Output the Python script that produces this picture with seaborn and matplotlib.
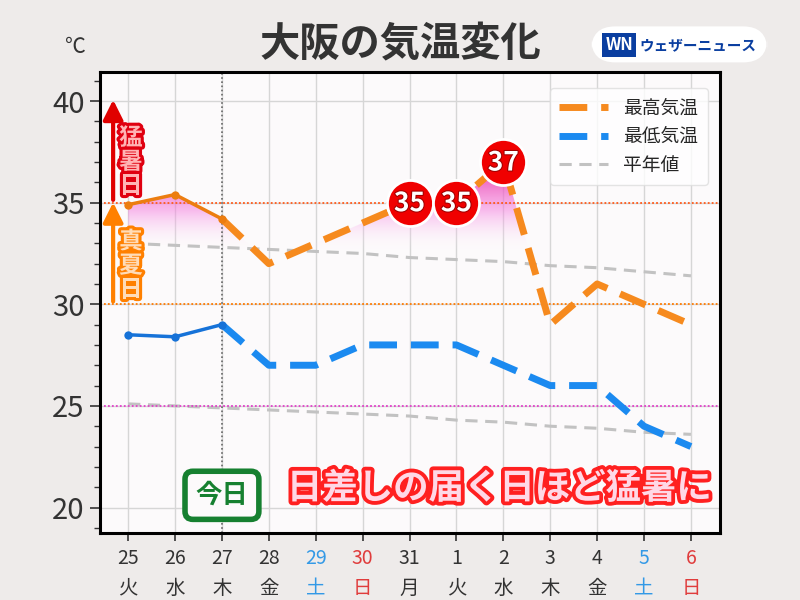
import numpy as np
import pandas as pd
import matplotlib
matplotlib.use("Agg")
import matplotlib.pyplot as plt
import matplotlib.colors as mcolors
import matplotlib.patheffects as pe
from matplotlib.lines import Line2D
from matplotlib.patches import FancyBboxPatch
from matplotlib.path import Path
import seaborn as sns

DAYS = ["25", "26", "27", "28", "29", "30", "31", "1", "2", "3", "4", "5", "6"]
WEEKDAYS = ["火", "水", "木", "金", "土", "日", "月", "火", "水", "木", "金", "土", "日"]
T_MAX = [34.9, 35.4, 34.2, 32.0, 33.0, 34.0, 35.0, 35.0, 37.0, 29.0, 31.0, 30.0, 29.0]
T_MIN = [28.5, 28.4, 29.0, 27.0, 27.0, 28.0, 28.0, 28.0, 27.0, 26.0, 26.0, 24.0, 23.0]
NORMAL_MAX = [33.0, 32.9, 32.8, 32.7, 32.6, 32.5, 32.3, 32.2, 32.1, 31.9, 31.8, 31.6, 31.4]
NORMAL_MIN = [25.1, 25.0, 24.9, 24.8, 24.7, 24.6, 24.5, 24.3, 24.2, 24.0, 23.9, 23.7, 23.6]
N_OBSERVED = 3          # 25..27 are observed, rest forecast
HOT_LABELS = {"31": 35, "1": 35, "2": 37}

ORANGE = "#f68a1e"
ORANGE_PAST = "#ec7d10"
BLUE = "#1b8af0"
BLUE_PAST = "#1672d8"
GRAY = "#c2c2c2"
BG = "#eeebea"
PANEL = "#fcfafb"
TEXT = "#333333"

sns.set_theme(style="whitegrid")
plt.rcParams["font.family"] = ["Noto Sans CJK JP", "DejaVu Sans"]

df = pd.DataFrame({"day": DAYS, "wd": WEEKDAYS, "tmax": T_MAX, "tmin": T_MIN,
                   "nmax": NORMAL_MAX, "nmin": NORMAL_MIN})
df["x"] = np.arange(len(df))
past = df.iloc[:N_OBSERVED]
fut = df.iloc[N_OBSERVED - 1:]

fig = plt.figure(figsize=(8, 6), dpi=100)
fig.patch.set_facecolor(BG)
ax = fig.add_axes([0.125, 0.1125, 0.775, 0.7675])
ax.set_facecolor(PANEL)

# normals
sns.lineplot(data=df, x="x", y="nmax", ax=ax, color=GRAY, lw=2.2,
             linestyle=(0, (4, 2.5)), errorbar=None, zorder=2)
sns.lineplot(data=df, x="x", y="nmin", ax=ax, color=GRAY, lw=2.2,
             linestyle=(0, (4, 2.5)), errorbar=None, zorder=2)

# gradient fill above normal
fb = ax.fill_between(df["x"], df["tmax"], df["nmax"], where=df["tmax"] > df["nmax"],
                     interpolate=True, facecolor="none", edgecolor="none")
clip = Path.make_compound_path(*fb.get_paths())
grad_cmap = mcolors.LinearSegmentedColormap.from_list(
    "heat", [(0.0, (1, 1, 1, 0)), (0.4, (0.96, 0.5, 0.88, 0.5)),
             (0.7, (0.93, 0.3, 0.72, 0.8)), (1.0, (0.9, 0.2, 0.45, 0.9))])
im = ax.imshow(np.linspace(0, 1, 256).reshape(-1, 1), extent=[-0.6, 12.6, 32.6, 37.5],
               origin="lower", cmap=grad_cmap, aspect="auto", zorder=1.5)
im.set_clip_path(clip, ax.transData)

# reference lines
ax.axhline(35, color="#ff5a1a", lw=1.3, ls=(0, (1, 1.2)), zorder=2)
ax.axhline(30, color="#ff7a00", lw=1.3, ls=(0, (1, 1.2)), zorder=2)
ax.axhline(25, color="#e040c8", lw=1.3, ls=(0, (1, 1.2)), zorder=2)
ax.axvline(2, color="#666666", lw=1.2, ls=(0, (1, 1.5)), zorder=2)

# min temp
sns.lineplot(data=past, x="x", y="tmin", ax=ax, color=BLUE_PAST, lw=2.5,
             marker="o", markersize=6, markeredgewidth=0, errorbar=None, zorder=4)
sns.lineplot(data=fut, x="x", y="tmin", ax=ax, color=BLUE, lw=5,
             linestyle=(0, (4, 2)), errorbar=None, zorder=3)

# max temp
sns.lineplot(data=fut, x="x", y="tmax", ax=ax, color=ORANGE, lw=5,
             linestyle=(0, (4, 2)), errorbar=None, zorder=3)
sns.lineplot(data=past, x="x", y="tmax", ax=ax, color=ORANGE_PAST, lw=2.5,
             marker="o", markersize=6, markeredgewidth=0, errorbar=None, zorder=4)

# hot day badges
hot = df[df["day"].isin(HOT_LABELS.keys())]
ax.scatter(hot["x"], [HOT_LABELS[d] for d in hot["day"]], s=1100, color="#f00000",
           edgecolor="white", linewidth=2, zorder=6)
for xv, d in zip(hot["x"], hot["day"]):
    ax.text(xv, HOT_LABELS[d] - 0.05, str(HOT_LABELS[d]), ha="center", va="center",
            color="white", fontsize=19, fontweight="bold", zorder=7,
            path_effects=[pe.withStroke(linewidth=1.5, foreground="#a00000")])

# threshold arrows
ax.annotate("", xy=(-0.32, 40.2), xytext=(-0.32, 35.0),
            arrowprops=dict(arrowstyle="-|>,head_width=0.5,head_length=1.0",
                            color="#e00000", lw=3), zorder=5)
ax.annotate("", xy=(-0.32, 35.15), xytext=(-0.32, 30.0),
            arrowprops=dict(arrowstyle="-|>,head_width=0.5,head_length=1.0",
                            color="#ff8000", lw=3), zorder=5)
ax.text(0.06, 37.0, "猛\n暑\n日", ha="center", va="center", fontsize=17,
        fontweight="bold", color="#ffb4b4", linespacing=1.0, zorder=6,
        path_effects=[pe.withStroke(linewidth=4.5, foreground="#e00010")])
ax.text(0.06, 31.9, "真\n夏\n日", ha="center", va="center", fontsize=17,
        fontweight="bold", color="#ffdcb8", linespacing=1.0, zorder=6,
        path_effects=[pe.withStroke(linewidth=4.5, foreground="#ff8000")])

# annotations
ax.text(2.0, 20.6, "今日", ha="center", va="center", fontsize=19, fontweight="bold",
        color="#168030", zorder=6,
        bbox=dict(boxstyle="round,pad=0.4,rounding_size=0.3", fc=PANEL, ec="#168030", lw=4))
ax.text(7.91, 20.95, "日差しの届く日ほど猛暑に", ha="center", va="center", fontsize=25.5,
        fontweight="bold", color="#ffd8e6", zorder=6,
        path_effects=[pe.withStroke(linewidth=5.5, foreground="#ff2020")])

# axes styling
ax.set_xlim(-0.6, 12.62)
ax.set_ylim(18.77, 41.43)
ax.set_yticks([20, 25, 30, 35, 40])
ax.set_yticks(np.arange(19, 42), minor=True)
ax.set_xticks(df["x"])
ax.set_xticklabels([f"{d}\n{w}" for d, w in zip(df["day"], df["wd"])], linespacing=1.55)
for lbl, w in zip(ax.get_xticklabels(), df["wd"]):
    lbl.set_color("#3399e6" if w == "土" else "#e03c3c" if w == "日" else TEXT)
    lbl.set_fontsize(14)
ax.tick_params(axis="y", which="major", labelsize=21, colors=TEXT, length=7, width=1.2,
               left=True, pad=4)
ax.tick_params(axis="y", which="minor", length=4, width=1, left=True, color=TEXT)
ax.tick_params(axis="x", length=6, width=1.2, bottom=True, color=TEXT, pad=5)
ax.set_xlabel("")
ax.set_ylabel("")
ax.grid(True, which="major", color="#d6d6d6", lw=1)
for s in ax.spines.values():
    s.set_color("black")
    s.set_linewidth(2.2)

# legend
handles = [Line2D([], [], color=ORANGE, lw=5, ls=(0, (4, 2))),
           Line2D([], [], color=BLUE, lw=5, ls=(0, (4, 2))),
           Line2D([], [], color=GRAY, lw=2.2, ls=(0, (4, 2.5)))]
leg = ax.legend(handles, ["最高気温", "最低気温", "平年値"], loc="upper right",
                fontsize=13.5, frameon=True, handlelength=2.6, borderpad=0.5,
                labelspacing=0.4, bbox_to_anchor=(0.995, 0.985))
leg.get_frame().set_edgecolor("#dddddd")
leg.get_frame().set_facecolor("white")
leg.set_zorder(8)

# header
fig.text(0.5, 0.925, "大阪の気温変化", ha="center", va="center", fontsize=29,
         fontweight="bold", color=TEXT)
fig.text(0.094, 0.922, "℃", ha="center", va="center", fontsize=15, color=TEXT)
logo = FancyBboxPatch((0.739, 0.896), 0.22, 0.06, boxstyle="round,pad=0,rounding_size=0.03",
                      transform=fig.transFigure, fc="white", ec="none", mutation_aspect=1.33)
fig.patches.append(logo)
fig.text(0.774, 0.925, "WN", ha="center", va="center", fontsize=12, fontweight="bold",
         fontstyle="italic", color="white",
         bbox=dict(boxstyle="square,pad=0.2", fc="#0a3ea0", ec="none"))
fig.text(0.873, 0.925, "ウェザーニュース", ha="center", va="center", fontsize=10.5,
         fontweight="bold", color="#0a3ea0")

fig.savefig("out.png", dpi=100, facecolor=BG)
